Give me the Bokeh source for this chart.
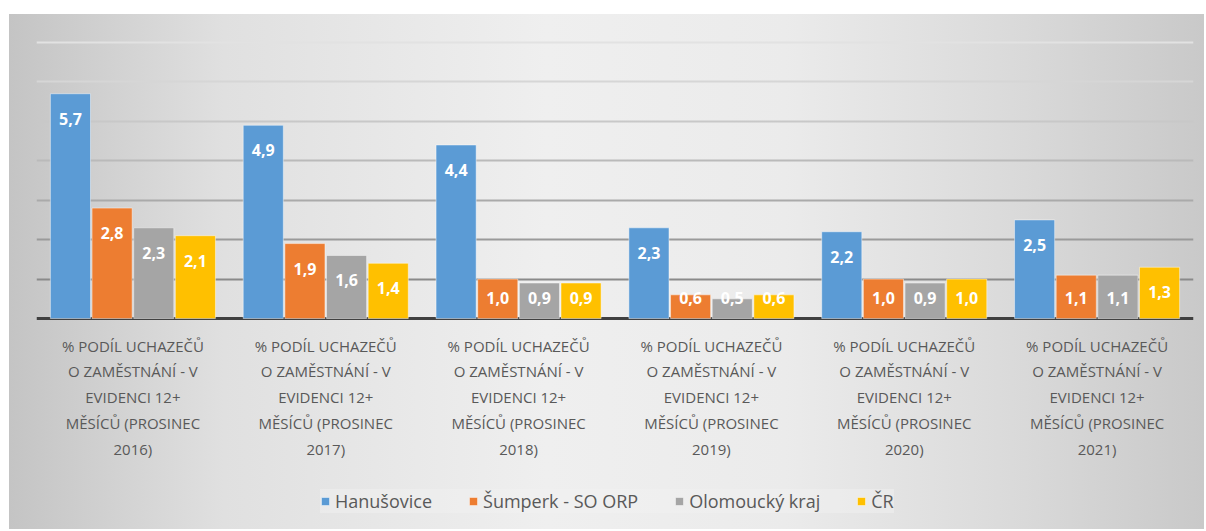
import textwrap
from bokeh.plotting import figure
from bokeh.models import (ColumnDataSource, Legend, LegendItem, LabelSet,
                          Grid, FixedTicker, Range1d)
from bokeh.core.properties import value
from bokeh.transform import dodge
from bokeh.embed import file_html
from bokeh.resources import INLINE

categories = [
    "% PODÍL UCHAZEČŮ O ZAMĚSTNÁNÍ - V EVIDENCI 12+ MĚSÍCŮ (PROSINEC 2016)",
    "% PODÍL UCHAZEČŮ O ZAMĚSTNÁNÍ - V EVIDENCI 12+ MĚSÍCŮ (PROSINEC 2017)",
    "% PODÍL UCHAZEČŮ O ZAMĚSTNÁNÍ - V EVIDENCI 12+ MĚSÍCŮ (PROSINEC 2018)",
    "% PODÍL UCHAZEČŮ O ZAMĚSTNÁNÍ - V EVIDENCI 12+ MĚSÍCŮ (PROSINEC 2019)",
    "% PODÍL UCHAZEČŮ O ZAMĚSTNÁNÍ - V EVIDENCI 12+ MĚSÍCŮ (PROSINEC 2020)",
    "% PODÍL UCHAZEČŮ O ZAMĚSTNÁNÍ - V EVIDENCI 12+ MĚSÍCŮ (PROSINEC 2021)",
]
series_names = ["Hanušovice", "Šumperk - SO ORP", "Olomoucký kraj", "ČR"]
hanusovice = [5.7, 4.9, 4.4, 2.3, 2.2, 2.5]
sumperk = [2.8, 1.9, 1.0, 0.6, 1.0, 1.1]
olomoucky = [2.3, 1.6, 0.9, 0.5, 0.9, 1.1]
cr = [2.1, 1.4, 0.9, 0.6, 1.0, 1.3]
y_ticks = [1, 2, 3, 4, 5, 6, 7]

series = [hanusovice, sumperk, olomoucky, cr]
colors = ["#5B9BD5", "#ED7D31", "#A5A5A5", "#FFC000"]
offsets = [-0.324, -0.108, 0.108, 0.324]
FONT = "Open Sans"

# category slots on a numeric axis: slot i spans [i, i+1], centre at i + 0.5
cat_pos = [i + 0.5 for i in range(len(categories))]

# the frame reaches down into the label/legend area; value axis 0..7 occupies the upper part
p = figure(x_range=Range1d(0, len(categories)), y_range=Range1d(-5.35, 7.05),
           width=1195, height=515, output_backend="svg", toolbar_location=None,
           min_border_left=27, min_border_right=11, min_border_top=26, min_border_bottom=0)
p.margin = (14, 0, 0, 9)
p.border_fill_color = None
p.background_fill_color = None
p.outline_line_color = None
p.styles = {"background": "linear-gradient(to right, #c4c4c4 0%, #e0e0e0 18%, #efefef 45%, #ebebeb 65%, #d9d9d9 85%, #c9c9c9 100%)"}

p.xaxis.visible = False
p.yaxis.visible = False
p.xgrid.grid_line_color = None
p.ygrid.grid_line_color = None
grid_shades = ["#8a8a8a", "#9a9a9a", "#aaaaaa", "#bababa", "#c8c8c8", "#d6d6d6", "#e2e2e2"]
for t, shade in zip(y_ticks, grid_shades):
    p.add_layout(Grid(dimension=1, ticker=FixedTicker(ticks=[t]),
                      grid_line_color=shade, grid_line_width=2))
# category axis baseline at 0
p.add_layout(Grid(dimension=1, ticker=FixedTicker(ticks=[0]),
                  grid_line_color="#404040", grid_line_width=3))

items = []
for name, vals, col, off in zip(series_names, series, colors, offsets):
    src = ColumnDataSource(dict(
        x=cat_pos, cat=categories, val=vals,
        lab=[f"{v:.1f}".replace(".", ",") for v in vals],
        ly=[max(v, 1.16) for v in vals],
    ))
    r = p.vbar(x=dodge("x", off), top="val", width=0.208, source=src,
               fill_color=col, line_color="white", line_alpha=0.45, line_width=1)
    p.add_layout(LabelSet(x=dodge("x", off), y="ly", text="lab", source=src,
                          y_offset=-25, text_align="center", text_baseline="middle",
                          text_color="white", text_font=value(FONT), text_font_size="16px",
                          text_font_style="bold"))
    items.append(LegendItem(label=name, renderers=[r]))

# wrapped category labels under the baseline, one LabelSet per text line
wrapped = [textwrap.wrap(c, width=16, break_on_hyphens=False) for c in categories]
n_lines = max(len(w) for w in wrapped)
for li in range(n_lines):
    lsrc = ColumnDataSource(dict(
        x=cat_pos, y0=[0] * len(categories),
        txt=[w[li] if li < len(w) else "" for w in wrapped],
    ))
    p.add_layout(LabelSet(x="x", y="y0", text="txt", source=lsrc,
                          y_offset=-(27 + 25.8 * li), text_align="center", text_baseline="middle",
                          text_color="#595959", text_font=value(FONT), text_font_size="15px"))

legend = Legend(items=items, orientation="horizontal", location=(284, 16),
                label_text_font=FONT, label_text_font_size="18px", label_text_color="#595959",
                glyph_width=10, glyph_height=10, label_standoff=5, spacing=36,
                padding=9, margin=0, border_line_color=None,
                background_fill_color="#f2f2f2", background_fill_alpha=0.45)
p.add_layout(legend)

open("out.html", "w").write(file_html(p, INLINE))
